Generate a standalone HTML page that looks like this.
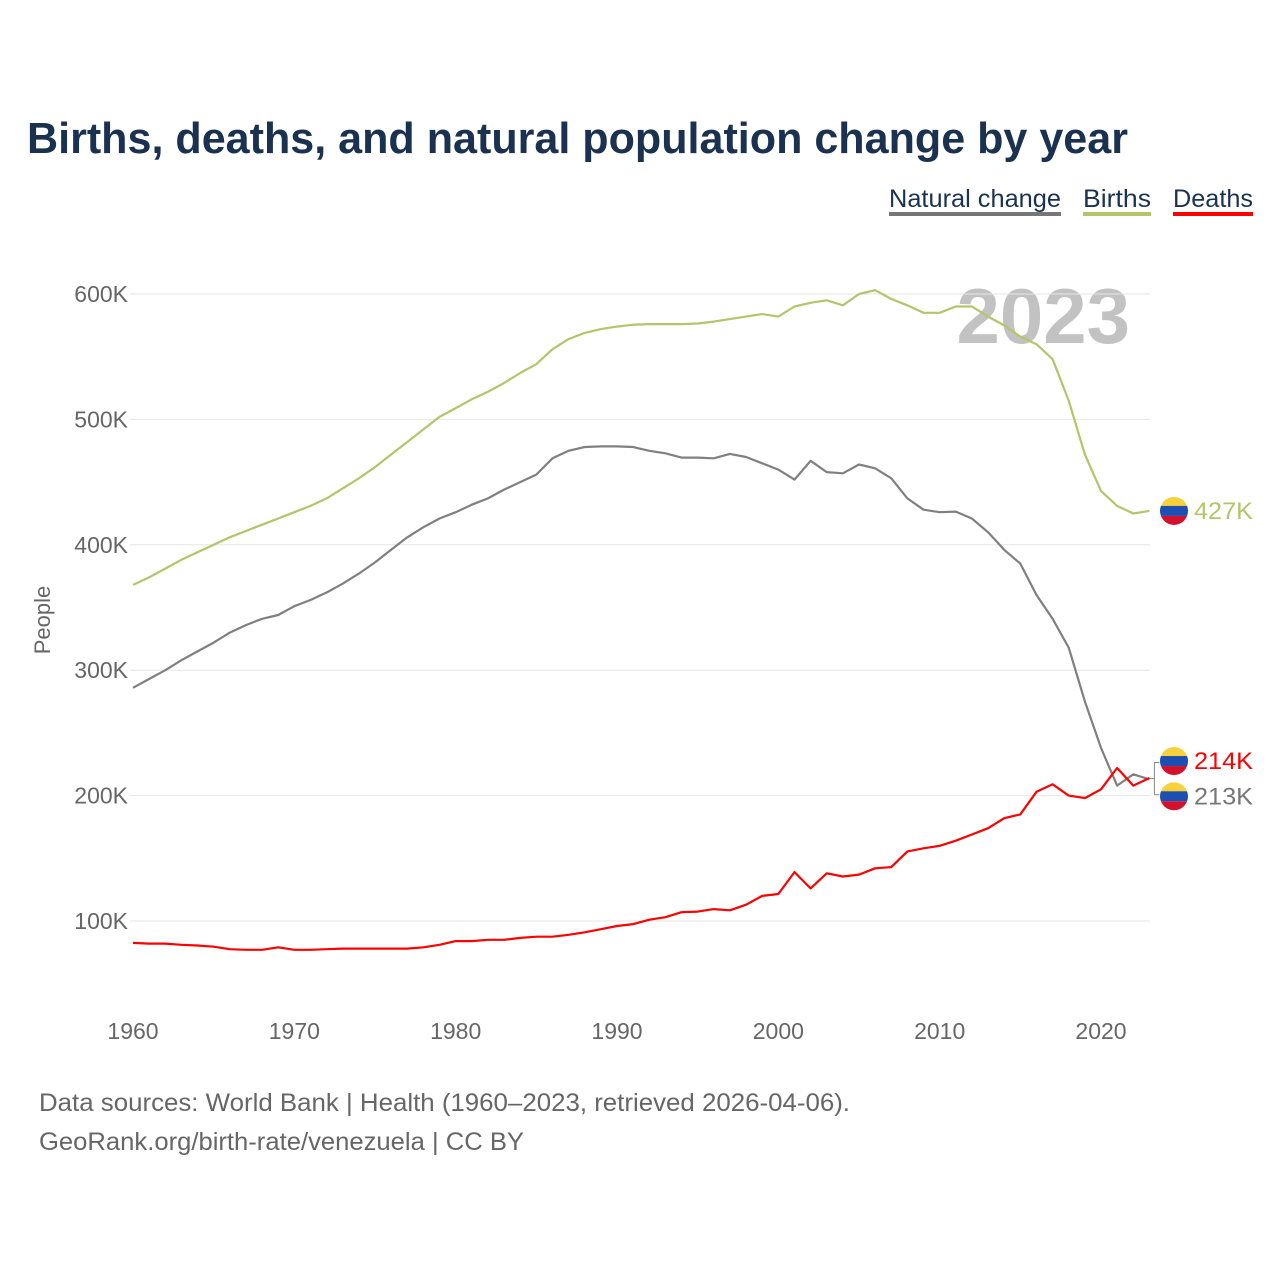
<!DOCTYPE html>
<html><head><meta charset="utf-8"><style>
body{margin:0;background:#fff;width:1280px;height:1280px;overflow:hidden;font-family:"Liberation Sans",sans-serif}
svg text{font-family:"Liberation Sans",sans-serif}
</style></head><body>
<svg id="chart" width="1280" height="1280" xmlns="http://www.w3.org/2000/svg">
<defs>
<clipPath id="fc"><circle cx="0" cy="0" r="14"/></clipPath>
<g id="flag"><g clip-path="url(#fc)"><rect x="-14" y="-14" width="28" height="10" fill="#f6d13b"/><rect x="-14" y="-5" width="28" height="10" fill="#1c4fb1"/><rect x="-14" y="5" width="28" height="10" fill="#d3112d"/></g></g>
</defs>
<text x="27" y="153" font-size="44" font-weight="bold" fill="#1a3150" textLength="1101" lengthAdjust="spacingAndGlyphs">Births, deaths, and natural population change by year</text>
<g>
<g><text x="889" y="207" font-size="25" fill="#1a3150" textLength="172" lengthAdjust="spacingAndGlyphs">Natural change</text><rect x="889" y="212" width="172" height="4" fill="#777"/></g>
<g><text x="1083" y="207" font-size="25" fill="#1a3150" textLength="68" lengthAdjust="spacingAndGlyphs">Births</text><rect x="1083" y="212" width="68" height="4" fill="#b5c46a"/></g>
<g><text x="1173" y="207" font-size="25" fill="#1a3150" textLength="80" lengthAdjust="spacingAndGlyphs">Deaths</text><rect x="1173" y="212" width="80" height="4" fill="#f00"/></g>
</g>
<text x="1130" y="343" font-size="78" font-weight="bold" fill="#c2c2c2" text-anchor="end">2023</text>
<text transform="translate(50,620) rotate(-90)" font-size="22" fill="#666" text-anchor="middle">People</text>
<g id="grid"></g><g id="lines"></g><g id="ends"></g>
<text x="39" y="1111" font-size="25" fill="#666" textLength="811" lengthAdjust="spacingAndGlyphs">Data sources: World Bank | Health (1960–2023, retrieved 2026-04-06).</text>
<text x="39" y="1150" font-size="25" fill="#666" textLength="485" lengthAdjust="spacingAndGlyphs">GeoRank.org/birth-rate/venezuela | CC BY</text>
</svg>
<script>
const years=[];for(let y=1960;y<=2023;y++)years.push(y);
const births=[368,374,381,388,394,400,406,411,416,421,426,431,437,445,453,462,472,482,492,502,509,516,522,529,537,544,556,564,569,572,574,575.5,576,576,576,576.5,578,580,582,584,582,590,593,595,591,600,603,596,591,585,585,590,590,582,575,566,560,548,515,472,443,431,425,427];
const natural=[286,293,300,308,315,322,330,336,341,344,351,356,362,369,377,386,396,406,414,421,426,432,437,444,450,456,469,475,478,478.5,478.5,478,475,473,469.5,469.5,469,472.5,470,465,460,452,467,458,457,464,461,453,437,428,426,426.5,421,410,396,385,360,341,318,275,238,208,217,213];
const deaths=[82.5,82,82,81,80.5,79.5,77.5,77,77,79,77,77,77.5,78,78,78,78,78,79,81,84,84,85,85,86.5,87.5,87.5,89,91,93.5,96,97.5,101,103,107,107.5,109.5,108.5,113,120,121.5,139,126,138,135.5,137,142,143,155.5,158,160,164,169,174,182,185,203,209,200,198,205,222,208,214];
const yTicks=[100,200,300,400,500,600];
const xTicks=[1960,1970,1980,1990,2000,2010,2020];
const NS="http://www.w3.org/2000/svg";
const X=y=>133+(y-1960)*(968/60);
const Y=v=>921-(v-100)*1.254;
function mk(t,a,p){const e=document.createElementNS(NS,t);for(const k in a)e.setAttribute(k,a[k]);p.appendChild(e);return e;}
const grid=document.getElementById('grid');
yTicks.forEach(v=>{
 const l=mk('line',{x1:130,x2:1150,y1:Y(v),y2:Y(v),stroke:'#e6e6e6','stroke-width':1},grid);
 
 
 const t=mk('text',{x:128,y:Y(v)+8,'font-size':23,fill:'#666','text-anchor':'end'},grid);t.textContent=v+'K';
 
 
});
xTicks.forEach(v=>{
 const t=mk('text',{x:X(v),y:1039,'font-size':23,fill:'#666','text-anchor':'middle'},grid);t.textContent=v;
 
 
});
const lines=document.getElementById('lines');
[[births,'#b5c46a','births-line'],[natural,'#808080','natural-change-line'],[deaths,'#f00','deaths-line']].forEach(([d,c,n])=>{
 const p=mk('path',{d:d.map((v,i)=>(i?'L':'M')+X(years[i]).toFixed(1)+','+Y(v).toFixed(1)).join(''),fill:'none',stroke:c,'stroke-width':2.2,'stroke-linejoin':'round'},lines);
 
 
});
const ends=document.getElementById('ends');
const last=years.length-1;
const lx=X(years[last]);
const yd=Y(deaths[last]),yn=Y(natural[last]);
const br=mk('path',{d:`M${lx},${(yd+yn)/2}H${lx+5}V${yd-35/2+2}H${lx+10}M${lx+5},${(yd+yn)/2}V${yn+35/2-2}H${lx+10}`,fill:'none',stroke:'#888','stroke-width':1},ends);


[[Y(births[last]),'#b5c46a',Math.round(births[last])+'K','births-end-label'],[yd-17,'#f00',Math.round(deaths[last])+'K','deaths-end-label'],[yn+17,'#777',Math.round(natural[last])+'K','natural-change-end-label']].forEach(([y,c,txt,n])=>{
 const g=mk('g',{},ends);
 
 
 mk('use',{href:'#flag',x:1174,y:y},g);
 const t=mk('text',{x:1194,y:y+8,'font-size':24,fill:c,textLength:59,lengthAdjust:'spacingAndGlyphs'},g);t.textContent=txt;
});
</script>
</body></html>
